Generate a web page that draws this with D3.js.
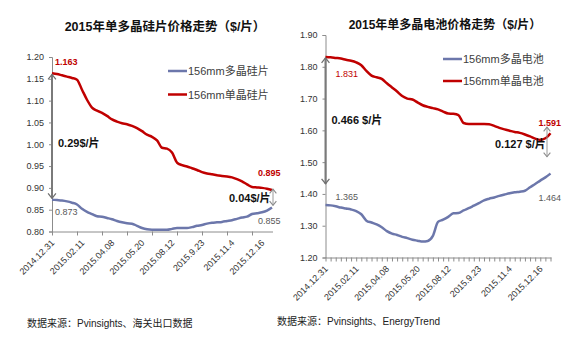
<!DOCTYPE html>
<html>
<head>
<meta charset="utf-8">
<script src="https://cdn.jsdelivr.net/npm/d3@7"></script>
<style>
  body { margin: 0; background: #fff; }
  svg text { font-family: "Liberation Sans", Arial, "Noto Sans CJK SC", sans-serif; }
</style>
</head>
<body>
<div id="chart"></div>
<script>
const width = 576;
const height = 338;

// x tick labels (one every 6 weekly points)
const dateLabels = ['2014.12.31', '2015.02.11', '2015.04.08', '2015.05.20', '2015.08.12', '2015.9.23', '2015.11.4', '2015.12.16'];

// wafer prices ($/片), 45 points
const waferMono = [1.163, 1.161, 1.158, 1.155, 1.152, 1.148, 1.125, 1.102, 1.084, 1.077,
    1.072, 1.065, 1.057, 1.052, 1.048, 1.046, 1.042, 1.037, 1.030, 1.022,
    1.017, 1.009, 0.992, 0.990, 0.981, 0.958, 0.952, 0.949, 0.945, 0.941,
    0.936, 0.933, 0.931, 0.929, 0.927, 0.926, 0.924, 0.920, 0.915, 0.908,
    0.902, 0.901, 0.900, 0.898, 0.895];
const waferPoly = [0.873, 0.872, 0.871, 0.869, 0.866, 0.862, 0.852, 0.845, 0.840, 0.835,
    0.834, 0.831, 0.828, 0.824, 0.821, 0.819, 0.818, 0.813, 0.808, 0.805,
    0.804, 0.804, 0.804, 0.804, 0.806, 0.808, 0.808, 0.808, 0.810, 0.813,
    0.815, 0.818, 0.820, 0.821, 0.822, 0.824, 0.826, 0.829, 0.832, 0.834,
    0.840, 0.842, 0.844, 0.848, 0.855];

// cell prices ($/片), 45 points
const cellMono = [1.831, 1.830, 1.828, 1.826, 1.822, 1.819, 1.814, 1.805, 1.787, 1.772,
    1.767, 1.762, 1.748, 1.735, 1.722, 1.708, 1.700, 1.697, 1.688, 1.679,
    1.674, 1.670, 1.666, 1.659, 1.653, 1.652, 1.648, 1.623, 1.620, 1.620,
    1.620, 1.620, 1.619, 1.614, 1.608, 1.603, 1.599, 1.595, 1.592, 1.587,
    1.581, 1.574, 1.570, 1.575, 1.591];
const cellPoly = [1.365, 1.364, 1.361, 1.357, 1.354, 1.351, 1.346, 1.336, 1.316, 1.310,
    1.304, 1.295, 1.283, 1.275, 1.271, 1.265, 1.261, 1.256, 1.253, 1.250,
    1.252, 1.268, 1.312, 1.319, 1.328, 1.339, 1.340, 1.348, 1.355, 1.363,
    1.371, 1.380, 1.385, 1.389, 1.394, 1.398, 1.402, 1.405, 1.407, 1.410,
    1.421, 1.431, 1.442, 1.452, 1.464];

const waferTicks = [0.80, 0.85, 0.90, 0.95, 1.00, 1.05, 1.10, 1.15, 1.20];
const cellTicks = [1.20, 1.30, 1.40, 1.50, 1.60, 1.70, 1.80, 1.90];

const RED = '#c00000';
const BLUE = '#6c77ab';
const AXIS = '#8c8c8c';

const svg = d3.select('#chart')
    .append('svg')
    .attr('width', width)
    .attr('height', height);

const defs = svg.append('defs');
function addMarker(id, color, size){
    defs.append('marker')
        .attr('id', id)
        .attr('viewBox', '-6 -5 7 10')
        .attr('refX', 0)
        .attr('refY', 0)
        .attr('markerUnits', 'userSpaceOnUse')
        .attr('markerWidth', size)
        .attr('markerHeight', size * 1.4)
        .attr('orient', 'auto-start-reverse')
        .append('path')
        .attr('d', 'M-5,-4 L0,0 L-5,4')
        .attr('fill', 'none')
        .attr('stroke', color)
        .attr('stroke-width', 1.3);
}
addMarker('arrowBig', '#6f6f6f', 7);
addMarker('arrowSmall', '#8a8a8a', 6);

function drawPanel(cfg){
    const g = svg.append('g');
    const x = d3.scaleLinear().domain([0, cfg.mono.length - 1]).range(cfg.xRange);
    const y = d3.scaleLinear().domain(cfg.yDomain).range(cfg.yRange);

    // title
    g.append('text')
        .attr('x', cfg.titleX)
        .attr('y', cfg.titleY)
        .attr('text-anchor', 'middle')
        .style('font-size', cfg.titleSize + 'px')
        .style('font-weight', 'bold')
        .style('fill', '#111')
        .text(cfg.title);

    // y axis
    const yAxis = g.append('g')
        .attr('transform', `translate(${cfg.xRange[0]},0)`)
        .call(d3.axisLeft(y).tickValues(cfg.yTicks).tickFormat(d3.format('.2f')).tickSize(3).tickPadding(5));
    yAxis.select('.domain').attr('stroke', AXIS);
    yAxis.selectAll('.tick line').attr('stroke', AXIS);
    yAxis.selectAll('.tick text').style('font-size', '9px').style('fill', '#333');

    // x axis
    const axisY = cfg.yRange[0];
    const xAxis = g.append('g')
        .attr('transform', `translate(0,${axisY})`)
        .call(d3.axisBottom(x).tickValues(d3.range(0, cfg.mono.length, cfg.tickStep)).tickFormat('').tickSize(4).tickSizeOuter(0));
    xAxis.select('.domain').attr('stroke', AXIS).attr('d', `M${cfg.xRange[0]},0.5H${cfg.xRange[1] + 1}`);
    xAxis.selectAll('.tick line').attr('stroke', AXIS);

    g.append('g')
        .selectAll('text')
        .data(dateLabels)
        .enter()
        .append('text')
        .attr('transform', (d, i) => `translate(${x(i * 6) + 3},${axisY + 12}) rotate(-45)`)
        .attr('text-anchor', 'end')
        .style('font-size', '9px')
        .style('fill', '#333')
        .text(d => d);

    // lines
    const line = d3.line().x((d, i) => x(i)).y(d => y(d)).curve(d3.curveMonotoneX);
    g.append('path').datum(cfg.poly)
        .attr('d', line).attr('fill', 'none').attr('stroke', BLUE).attr('stroke-width', 2.5);
    g.append('path').datum(cfg.mono)
        .attr('d', line).attr('fill', 'none').attr('stroke', RED).attr('stroke-width', 2.5);

    // legend
    const legend = g.append('g')
        .selectAll('g')
        .data([[cfg.polyName, BLUE], [cfg.monoName, RED]])
        .enter()
        .append('g')
        .attr('transform', (d, i) => `translate(${cfg.legendX},${cfg.legendY + i * cfg.legendGap})`);
    legend.append('line')
        .attr('x1', 0).attr('x2', 19)
        .attr('stroke', d => d[1]).attr('stroke-width', 2.5);
    legend.append('text')
        .attr('x', 20).attr('y', 4)
        .style('font-size', '11px')
        .style('fill', '#404040')
        .text(d => d[0]);

    // value labels
    const n = cfg.mono.length - 1;
    const labels = [
        [cfg.mono[0], x(0) + cfg.startDx, y(cfg.mono[0]) + cfg.monoStartDy, RED, cfg.monoStartBold],
        [cfg.poly[0], x(0) + cfg.startDx, y(cfg.poly[0]) + cfg.polyStartDy, '#595959', false],
        [cfg.mono[n], x(n) + cfg.endDx, y(cfg.mono[n]) + cfg.monoEndDy, RED, true],
        [cfg.poly[n], x(n) + cfg.endDx, y(cfg.poly[n]) + cfg.polyEndDy, '#595959', false]
    ];
    g.append('g')
        .selectAll('text')
        .data(labels)
        .enter()
        .append('text')
        .attr('x', d => d[1])
        .attr('y', d => d[2])
        .style('font-size', '9px')
        .style('font-weight', d => d[4] ? 'bold' : 'normal')
        .style('fill', d => d[3])
        .text(d => d3.format('.3f')(d[0]));

    // spread arrows
    g.append('line')
        .attr('x1', x(0)).attr('x2', x(0))
        .attr('y1', y(cfg.bigArrow[0])).attr('y2', y(cfg.bigArrow[1]))
        .attr('stroke', '#7a7a7a').attr('stroke-width', 2)
        .attr('marker-start', 'url(#arrowBig)').attr('marker-end', 'url(#arrowBig)');
    g.append('line')
        .attr('x1', cfg.smallArrowX).attr('x2', cfg.smallArrowX)
        .attr('y1', y(cfg.smallArrow[0])).attr('y2', y(cfg.smallArrow[1]))
        .attr('stroke', '#9a9a9a').attr('stroke-width', 1)
        .attr('marker-start', 'url(#arrowSmall)').attr('marker-end', 'url(#arrowSmall)');

    g.append('text')
        .attr('x', x(0) + cfg.bigLabelDx)
        .attr('y', cfg.bigLabelY)
        .style('font-size', '11px').style('font-weight', 'bold').style('fill', '#111')
        .text(cfg.bigLabel);
    g.append('text')
        .attr('x', cfg.smallLabelX)
        .attr('y', cfg.smallLabelY)
        .style('font-size', '11px').style('font-weight', 'bold').style('fill', '#111')
        .text(cfg.smallLabel);

    // source
    g.append('text')
        .attr('x', cfg.sourceX)
        .attr('y', cfg.sourceY)
        .style('font-size', '10px')
        .style('fill', '#222')
        .text(cfg.source);
}

drawPanel({
    title: '2015年单多晶硅片价格走势（$/片）', titleX: 165, titleY: 31, titleSize: 12.5,
    mono: waferMono, poly: waferPoly,
    monoName: '156mm单晶硅片', polyName: '156mm多晶硅片',
    xRange: [52, 272], yDomain: [0.80, 1.20], yRange: [231.5, 57], yTicks: waferTicks, tickStep: 5,
    legendX: 168, legendY: 71, legendGap: 23.5,
    startDx: 3, monoStartDy: -8, monoStartBold: true, polyStartDy: 15, endDx: -14, monoEndDy: -14, polyEndDy: 16,
    bigArrow: [1.160, 0.876], smallArrow: [0.897, 0.860], smallArrowX: 273,
    bigLabel: '0.29$/片', bigLabelDx: 6, bigLabelY: 147,
    smallLabel: '0.04$/片', smallLabelX: 229, smallLabelY: 202,
    source: '数据来源：Pvinsights、海关出口数据', sourceX: 27, sourceY: 327
});

drawPanel({
    title: '2015年单多晶电池价格走势（$/片）', titleX: 445, titleY: 29, titleSize: 12,
    mono: cellMono, poly: cellPoly,
    monoName: '156mm单晶电池', polyName: '156mm多晶电池',
    xRange: [325.5, 550.5], yDomain: [1.20, 1.90], yRange: [257.5, 35], yTicks: cellTicks, tickStep: 1,
    legendX: 443, legendY: 59, legendGap: 22,
    startDx: 10, monoStartDy: 20, monoStartBold: false, polyStartDy: -5, endDx: -12, monoEndDy: -7, polyEndDy: 27,
    bigArrow: [1.828, 1.432], smallArrow: [1.610, 1.517], smallArrowX: 547,
    bigLabel: '0.466 $/片', bigLabelDx: 6, bigLabelY: 124,
    smallLabel: '0.127 $/片', smallLabelX: 495, smallLabelY: 148,
    source: '数据来源：Pvinsights、EnergyTrend', sourceX: 277, sourceY: 325
});
</script>
</body>
</html>
